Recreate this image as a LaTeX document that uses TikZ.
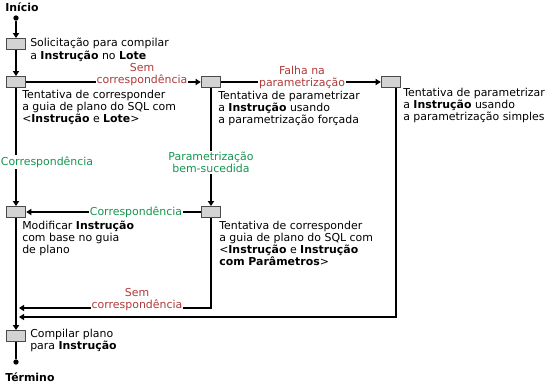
\documentclass[tikz,border=0pt]{standalone}
\usepackage{fontspec}
\setmainfont{DejaVu Sans}
\usetikzlibrary{arrows.meta}
\definecolor{boxfill}{HTML}{D3D3D3}
\definecolor{boxline}{HTML}{4A4A4A}
\definecolor{lblred}{HTML}{B03A3A}
\definecolor{lblgreen}{HTML}{169650}
\begin{document}
\begin{tikzpicture}[x=0.75pt,y=-0.75pt,
  font=\fontsize{8.2}{9.2}\selectfont,
  stepbox/.style={draw=boxline,fill=boxfill,line width=0.9pt,minimum width=14.5pt,minimum height=8pt,inner sep=0pt},
  conn/.style={line width=1pt,-{Triangle[length=3.8pt,width=4.6pt]}},
  plain/.style={line width=1pt},
  txt/.style={anchor=north west,inner sep=0pt,align=left},
  redlbl/.style={text=lblred,fill=white,inner sep=0.8pt,align=center},
  greenlbl/.style={text=lblgreen,fill=white,inner sep=0.8pt,align=center},
  enddot/.style={circle,fill=black,inner sep=0pt,minimum size=4pt}]
\useasboundingbox (0,0) rectangle (546,383);
% start / end
\node[anchor=west,inner sep=0pt,font=\fontsize{8.2}{9.2}\selectfont\bfseries] (inicio) at (5,7) {Início};
\node[enddot] (sdot) at (16,18) {};
\node[enddot] (edot) at (16,362) {};
\node[anchor=west,inner sep=0pt,font=\fontsize{8.2}{9.2}\selectfont\bfseries] (termino) at (5,377) {Término};
% boxes
\node[stepbox] (b1) at (16,44) {};
\node[stepbox] (b2) at (16,82) {};
\node[stepbox] (b3) at (211,82) {};
\node[stepbox] (b4) at (391,82) {};
\node[stepbox] (b5) at (16,212) {};
\node[stepbox] (b6) at (211,212) {};
\node[stepbox] (b7) at (16,336) {};
% coordinates
\coordinate (b4o) at (396,88);
\coordinate (j1) at (19,308);
\coordinate (j2) at (19,317);
% connectors
\draw[conn] (sdot) -- (b1.north);
\draw[conn] (b1.south) -- (b2.north);
\draw[conn] (b2.east) -- (b3.west);
\draw[conn] (b3.east) -- (b4.west);
\draw[conn] (b2.south) -- (b5.north);
\draw[conn] (b3.south) -- (b6.north);
\draw[conn] (b6.west) -- (b5.east);
\draw[conn] (b6.south) |- (j1);
\draw[conn] (b4o) |- (j2);
\draw[conn] (b5.south) -- (b7.north);
\draw[plain] (b7.south) -- (edot);
% labels
\node[redlbl] (l1) at (142,74.5) {Sem\\correspondência};
\node[redlbl] (l2) at (302,77.5) {Falha na\\parametrização};
\node[greenlbl] (l3) at (47,162) {Correspondência};
\node[greenlbl] (l4) at (211,162.5) {Parametrização\\bem-sucedida};
\node[greenlbl] (l5) at (136,212) {Correspondência};
\node[redlbl] (l6) at (137,299.5) {Sem\\correspondência};
% texts
\node[txt] (t1) at (30,38) {Solicitação para compilar\\a \textbf{Instrução} no \textbf{Lote}};
\node[txt] (t2) at (22,89.5) {Tentativa de corresponder\\a guia de plano do SQL com\\<\textbf{Instrução} e \textbf{Lote}>};
\node[txt] (t3) at (218,90.5) {Tentativa de parametrizar\\a \textbf{Instrução} usando\\a parametrização forçada};
\node[txt] (t4) at (403,87.5) {Tentativa de parametrizar\\a \textbf{Instrução} usando\\a parametrização simples};
\node[txt] (t5) at (22,220.5) {Modificar \textbf{Instrução}\\com base no guia\\de plano};
\node[txt] (t6) at (219,220.5) {Tentativa de corresponder\\a guia de plano do SQL com\\<\textbf{Instrução} e \textbf{Instrução}\\\textbf{com Parâmetros}>};
\node[txt] (t7) at (30,328.5) {Compilar plano\\para \textbf{Instrução}};
\end{tikzpicture}
\end{document}
